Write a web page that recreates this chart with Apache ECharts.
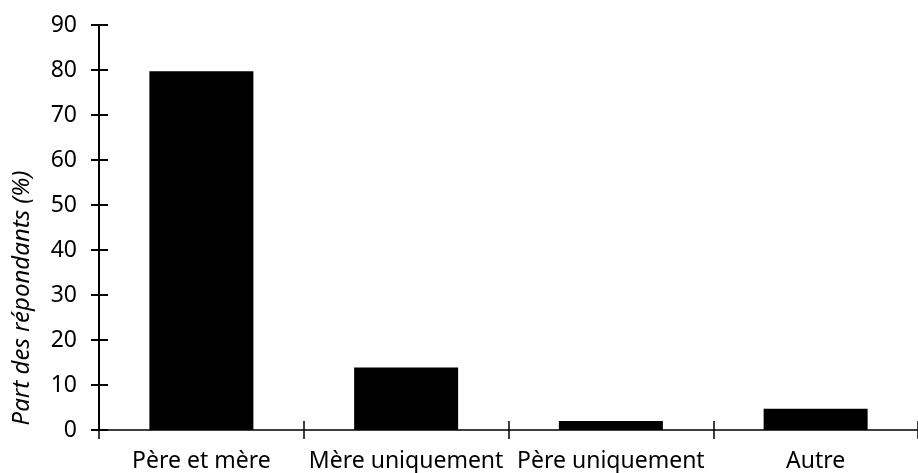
<!DOCTYPE html>
<html><head><meta charset="utf-8">
<script src="https://cdn.jsdelivr.net/npm/echarts@6/dist/echarts.min.js"></script>
<style>html,body{margin:0;padding:0;background:#fff}#c{width:918px;height:473px}</style>
</head><body><div id="c"></div>
<script>
const categories = ['Père et mère', 'Mère uniquement', 'Père uniquement', 'Autre'];
const values = [79.7, 13.9, 2.0, 4.7];
const yTicks = [0, 10, 20, 30, 40, 50, 60, 70, 80, 90];
const yTitle = 'Part des répondants (%)';

const chart = echarts.init(document.getElementById('c'));
const font = 'Noto Sans';
const yMin = yTicks[0], yMax = yTicks[yTicks.length - 1];
const lineX = { color: '#000', width: 1.5 };
const lineY = { color: '#000', width: 2 };
chart.setOption({
  animation: false,
  grid: { left: 99, right: -8, top: 25, bottom: 43, containLabel: false },
  xAxis: [{
    type: 'category', data: categories,
    axisLine: { lineStyle: lineX },
    axisTick: { show: true, length: 9, lineStyle: lineX },
    axisLabel: { color: '#000', fontFamily: font, fontSize: 23, margin: 20, interval: 0 }
  }, {
    type: 'category', data: categories, position: 'bottom',
    axisLine: { show: false },
    axisTick: { show: true, inside: true, length: 9, lineStyle: lineX },
    axisLabel: { show: false }
  }],
  yAxis: [{
    type: 'value', min: yMin, max: yMax, interval: 10,
    splitLine: { show: false },
    axisLine: { show: true, lineStyle: lineY },
    axisTick: { show: true, length: 8, lineStyle: lineY },
    axisLabel: { color: '#000', fontFamily: font, fontSize: 23, margin: 22 }
  }, {
    type: 'value', min: yMin, max: yMax, interval: 10, position: 'left',
    splitLine: { show: false },
    axisLine: { show: false },
    axisTick: { show: true, inside: true, length: 9, lineStyle: lineY },
    axisLabel: { show: false }
  }],
  graphic: [{
    type: 'text', x: 22, y: 298, rotation: Math.PI / 2,
    style: { text: yTitle, fill: '#000', font: 'italic 24px "Noto Sans"', align: 'center', verticalAlign: 'middle' }
  }],
  series: [{
    type: 'bar', data: values, barWidth: 104,
    itemStyle: { color: '#000' }
  }]
});
</script></body></html>
